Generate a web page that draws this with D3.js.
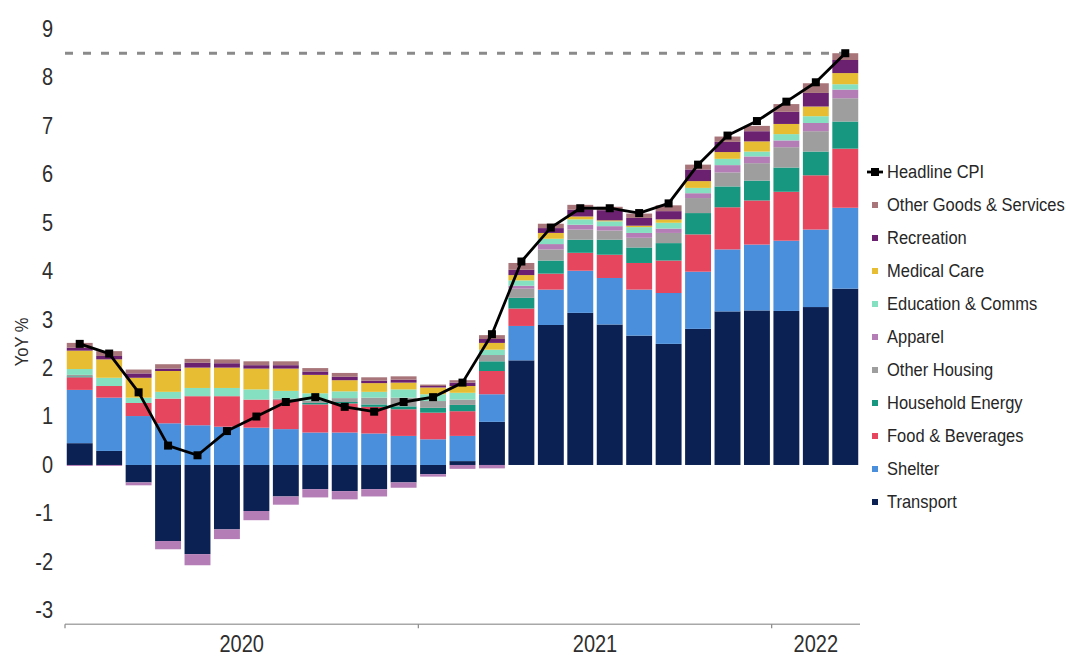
<!DOCTYPE html>
<html><head><meta charset="utf-8">
<script src="https://cdn.jsdelivr.net/npm/d3@7"></script>
<style>
body{margin:0;background:#fff;}
svg{display:block;font-family:"Liberation Sans",Arial,sans-serif;}
</style>
</head><body>
<svg id="c" width="1066" height="657"></svg>
<script>
// ---------------- data ----------------
const months = ["2020-01","2020-02","2020-03","2020-04","2020-05","2020-06","2020-07","2020-08","2020-09","2020-10","2020-11","2020-12",
                "2021-01","2021-02","2021-03","2021-04","2021-05","2021-06","2021-07","2021-08","2021-09","2021-10","2021-11","2021-12",
                "2022-01","2022-02","2022-03"];
const transport      = [0.45,0.29,-0.36,-1.57,-1.84,-1.33,-0.95,-0.65,-0.50,-0.54,-0.50,-0.36,-0.19,0.08,0.89,2.16,2.89,3.14,2.90,2.67,2.50,2.81,3.17,3.19,3.18,3.26,3.64];
const shelter        = [1.10,1.10,1.01,0.86,0.82,0.79,0.77,0.74,0.67,0.67,0.65,0.60,0.53,0.52,0.57,0.71,0.73,0.87,0.96,0.95,1.05,1.18,1.28,1.36,1.45,1.60,1.67];
const food           = [0.26,0.24,0.27,0.51,0.60,0.63,0.58,0.60,0.58,0.60,0.55,0.55,0.55,0.51,0.48,0.36,0.33,0.37,0.48,0.55,0.67,0.77,0.87,0.91,1.01,1.12,1.22];
const householdEnergy= [0.02,0.00,0.00,0.00,0.00,0.00,0.00,0.00,0.03,0.03,0.05,0.06,0.10,0.13,0.20,0.22,0.27,0.27,0.31,0.32,0.36,0.44,0.43,0.41,0.50,0.49,0.56];
const otherHousing   = [0.03,0.00,0.00,0.00,0.00,0.00,0.00,0.03,0.05,0.08,0.14,0.18,0.14,0.11,0.13,0.19,0.23,0.21,0.19,0.20,0.21,0.31,0.29,0.36,0.42,0.42,0.48];
const apparel        = [-0.02,-0.02,-0.06,-0.17,-0.23,-0.20,-0.19,-0.17,-0.17,-0.17,-0.15,-0.11,-0.05,-0.08,-0.07,0.06,0.11,0.10,0.09,0.10,0.09,0.10,0.15,0.14,0.14,0.17,0.18];
const eduComms       = [0.12,0.17,0.11,0.14,0.17,0.17,0.21,0.16,0.15,0.14,0.12,0.17,0.14,0.14,0.11,0.11,0.11,0.11,0.10,0.12,0.12,0.11,0.13,0.10,0.13,0.14,0.11];
const medical        = [0.38,0.38,0.41,0.43,0.42,0.42,0.43,0.46,0.38,0.23,0.18,0.14,0.14,0.14,0.14,0.11,0.12,0.06,0.02,0.03,0.07,0.14,0.14,0.21,0.21,0.20,0.23];
const recreation     = [0.06,0.07,0.09,0.05,0.10,0.09,0.07,0.07,0.07,0.07,0.05,0.06,0.03,0.07,0.08,0.11,0.10,0.14,0.21,0.16,0.17,0.24,0.21,0.21,0.25,0.28,0.27];
const otherGoods     = [0.10,0.10,0.08,0.09,0.08,0.08,0.08,0.08,0.07,0.08,0.07,0.07,0.03,0.05,0.08,0.14,0.09,0.10,0.07,0.09,0.12,0.10,0.11,0.11,0.16,0.20,0.14];
const headline       = [2.5,2.3,1.5,0.4,0.2,0.7,1.0,1.3,1.4,1.2,1.1,1.3,1.4,1.7,2.7,4.2,4.9,5.3,5.3,5.2,5.4,6.2,6.8,7.1,7.5,7.9,8.5];
const targetLevel = 8.5;

const seriesNames  = ["Transport","Shelter","Food & Beverages","Household Energy","Other Housing","Apparel","Education & Comms","Medical Care","Recreation","Other Goods & Services"];
const seriesValues = [transport,shelter,food,householdEnergy,otherHousing,apparel,eduComms,medical,recreation,otherGoods];
const seriesColors = ["#0b2153","#4a8fdb","#e6475f","#17977f","#9e9e9e","#b47db6","#84e0c0","#e6bd33","#6b2070","#a8767a"];
const yTicks = [-3,-2,-1,0,1,2,3,4,5,6,7,8,9];
const years = ["2020","2021","2022"];
const headlineName = "Headline CPI";
const yLabel = "YoY %";

// ---------------- chart ----------------
const svg = d3.select("#c");
const x = d3.scaleBand().domain(months).range([65, 860]).paddingInner(0.12).paddingOuter(0.06);
const y = d3.scaleLinear().domain([-3, 9]).range([610.3, 29]);

const rows = months.map((m, i) => {
  const r = {month: m};
  seriesNames.forEach((n, k) => r[n] = seriesValues[k][i]);
  return r;
});
const stacked = d3.stack().keys(seriesNames).offset(d3.stackOffsetDiverging)(rows);
const color = d3.scaleOrdinal().domain(seriesNames).range(seriesColors);

// y axis labels
const yAxis = d3.axisLeft(y).tickValues(yTicks).tickSize(0).tickPadding(3).tickFormat(d => String(d));
const gy = svg.append("g").attr("transform", "translate(56,0)").call(yAxis);
gy.select(".domain").remove();
gy.selectAll("text").attr("font-size", 20).attr("fill", "#2e2e2e")
  .attr("font-family", "Liberation Sans, Arial, sans-serif")
  .attr("transform", "scale(1,1.15)");

svg.append("g")
  .attr("transform", `translate(22,${(y(3)+y(2))/2 - 2}) rotate(-90)`)
  .append("text")
  .attr("text-anchor", "middle").attr("dominant-baseline", "central")
  .attr("transform", "scale(1,1.1)")
  .attr("font-size", 16.5).attr("fill", "#2e2e2e").text(yLabel);

// bars
svg.append("g").selectAll("g").data(stacked).join("g")
  .attr("fill", d => color(d.key))
  .selectAll("rect").data(d => d).join("rect")
  .attr("x", d => x(d.data.month))
  .attr("width", x.bandwidth())
  .attr("y", d => y(Math.max(d[0], d[1])))
  .attr("height", d => Math.abs(y(d[0]) - y(d[1])));

// target dashed line
const half = x.bandwidth() / 2;
svg.append("line")
  .attr("x1", x.range()[0]).attr("x2", x(months[months.length - 1]) + half + 4)
  .attr("y1", y(targetLevel)).attr("y2", y(targetLevel))
  .attr("stroke", "#8a8a8a").attr("stroke-width", 3).attr("stroke-dasharray", "8,10");

// headline line
const line = d3.line().x((d, i) => x(months[i]) + half).y(d => y(d));
svg.append("path").datum(headline).attr("d", line)
  .attr("fill", "none").attr("stroke", "#000").attr("stroke-width", 2.8).attr("stroke-linejoin", "round");
svg.append("g").selectAll("rect").data(headline).join("rect")
  .attr("x", (d, i) => x(months[i]) + half - 4).attr("y", d => y(d) - 4)
  .attr("width", 8).attr("height", 8).attr("fill", "#000");

// x axis
const axisY = y(-3) + 14;
const gap = (x.step() - x.bandwidth()) / 2;
const bounds = years.map(yr => {
  const idx = months.map((m, i) => [m, i]).filter(p => p[0].startsWith(yr)).map(p => p[1]);
  return {yr, start: x(months[idx[0]]) - gap, end: x(months[idx[idx.length - 1]]) + x.bandwidth() + gap};
});
bounds[bounds.length - 1].end = x.range()[1];
const gx = svg.append("g");
gx.append("line").attr("x1", x.range()[0]).attr("x2", x.range()[1]).attr("y1", axisY).attr("y2", axisY)
  .attr("stroke", "#a8a8a8").attr("stroke-width", 1.5);
gx.selectAll("line.tk").data(bounds).join("line").attr("class", "tk")
  .attr("x1", d => d.start).attr("x2", d => d.start).attr("y1", axisY).attr("y2", axisY + 4)
  .attr("stroke", "#888").attr("stroke-width", 1.2);
gx.selectAll("g.yl").data(bounds).join("g").attr("class", "yl")
  .attr("transform", d => `translate(${(d.start + d.end) / 2},${axisY + 28})`)
  .append("text").attr("text-anchor", "middle").attr("transform", "scale(1,1.15)")
  .attr("font-size", 20).attr("fill", "#2e2e2e").text(d => d.yr);

// legend
const legendItems = [headlineName].concat(seriesNames.slice().reverse());
const ly = d3.scalePoint().domain(legendItems).range([172, 502]);
const lg = svg.append("g");
legendItems.forEach((name, i) => {
  const yy = ly(name);
  if (name === headlineName) {
    lg.append("line").attr("x1", 867).attr("x2", 883).attr("y1", yy).attr("y2", yy).attr("stroke", "#000").attr("stroke-width", 2.8);
    lg.append("rect").attr("x", 871).attr("y", yy - 4).attr("width", 8).attr("height", 8).attr("fill", "#000");
  } else {
    lg.append("rect").attr("x", 872).attr("y", yy - 3).attr("width", 6).attr("height", 6).attr("fill", color(name));
  }
  lg.append("g").attr("transform", `translate(887,${yy})`)
    .append("text").attr("dominant-baseline", "central").attr("transform", "scale(1,1.12)")
    .attr("font-size", 16.5).attr("fill", "#262626").text(name);
});
</script>
</body></html>
